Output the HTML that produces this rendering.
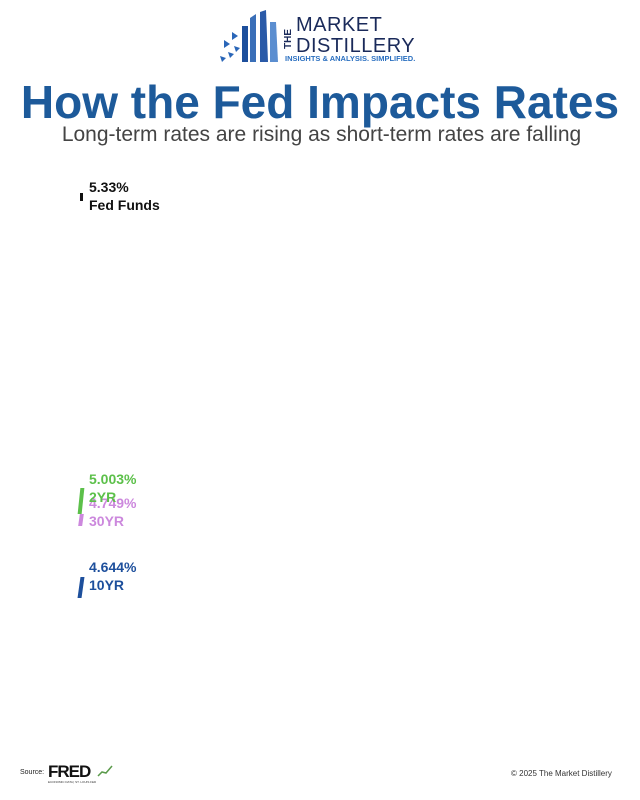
<!DOCTYPE html>
<html><head><meta charset="utf-8"><style>
body{margin:0;width:640px;height:800px;background:#fff;position:relative;overflow:hidden;font-family:"Liberation Sans",sans-serif}
.a{position:absolute;white-space:nowrap}
.lab{font-weight:bold;font-size:14px;line-height:18px}
</style></head><body>
<svg class="a" style="left:218px;top:10px" width="70" height="54">
<polygon points="32,8 38,4 38,52 32,52" fill="#3a6fb8"/>
<polygon points="42,2 48,0 50,52 42,52" fill="#2a5aa8"/>
<polygon points="52,12 58,12 60,52 52,52" fill="#5b8ed0"/>
<polygon points="24,16 30,16 30,52 24,52" fill="#1d4f9c"/>
<polygon points="6,30 12,34 6,38" fill="#2a66b8"/>
<polygon points="14,22 20,26 14,30" fill="#2a66b8"/>
<polygon points="10,42 16,44 12,48" fill="#2a66b8"/>
<polygon points="2,46 8,48 4,52" fill="#2a66b8"/>
<polygon points="16,36 22,38 18,42" fill="#2a66b8"/>
</svg>
<div class="a" style="left:283px;font-size:10px;color:#1a2a5a;font-weight:bold;transform:rotate(-90deg);transform-origin:0 0;top:49px">THE</div>
<div class="a" style="left:296px;top:15px;font-size:20px;line-height:21px;color:#1a2a5a;letter-spacing:0.5px">MARKET<br>DISTILLERY</div>
<div class="a" style="left:285px;top:54px;font-size:7.5px;font-weight:bold;color:#2a6fc0">INSIGHTS &amp; ANALYSIS. SIMPLIFIED.</div>
<div class="a" style="left:0;width:640px;text-align:center;top:75px;font-size:46px;font-weight:bold;color:#1d5a9a">How the Fed Impacts Rates</div>
<div class="a" style="left:0;width:643px;text-align:center;top:123px;font-size:21px;color:#444">Long-term rates are rising as short-term rates are falling</div>

<div class="a" style="left:80px;top:193px;width:3px;height:8px;background:#111"></div>
<div class="a lab" style="left:89px;top:178px;color:#111">5.33%<br>Fed Funds</div>

<div class="a" style="left:79px;top:488px;width:4px;height:26px;background:#5cc04a;transform:skewX(-6deg)"></div>
<div class="a" style="left:79px;top:514px;width:4px;height:12px;background:#cc88dd;transform:skewX(-8deg)"></div>
<div class="a lab" style="left:89px;top:494px;color:#cc88dd">4.749%<br>30YR</div>
<div class="a lab" style="left:89px;top:470px;color:#5cc04a">5.003%<br>2YR</div>

<div class="a" style="left:79px;top:577px;width:4px;height:21px;background:#1d4f9c;transform:skewX(-8deg)"></div>
<div class="a lab" style="left:89px;top:558px;color:#1d4f9c">4.644%<br>10YR</div>

<div class="a" style="left:20px;top:769px;font-size:7px;color:#222">Source:</div>
<div class="a" style="left:48px;top:762px;font-size:17px;font-weight:bold;color:#111;letter-spacing:-1px">FRED</div>
<div class="a" style="left:48px;top:780px;font-size:3px;color:#333">ECONOMIC DATA | ST. LOUIS FED</div>
<svg class="a" style="left:97px;top:764px" width="17" height="14"><polyline points="1,12 5,8 9,9 15,2" fill="none" stroke="#5a9a4a" stroke-width="1.5"/></svg>
<div class="a" style="left:511px;top:769px;font-size:8px;color:#333">© 2025 The Market Distillery</div>
</body></html>
